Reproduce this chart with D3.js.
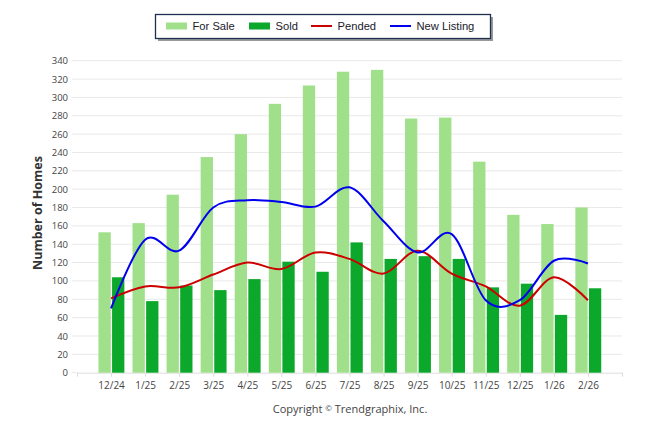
<!DOCTYPE html>
<html><head><meta charset="utf-8">
<script src="https://cdn.jsdelivr.net/npm/d3@7"></script>
<style>body{margin:0;background:#fff}svg{display:block}</style>
</head><body><div id="chart"></div>
<script>
const categories = ["12/24","1/25","2/25","3/25","4/25","5/25","6/25","7/25","8/25","9/25","10/25","11/25","12/25","1/26","2/26"];
const forSale = [153,163,194,235,260,293,313,328,330,277,278,230,172,162,180];
const sold = [104,78,95,90,102,121,110,142,124,127,124,93,97,63,92];
const pended = [81,94,93,107,120,113,131,124,108,133,108,94,73,104,79];
const newListing = [70,145,133,180,188,186,181,202,165,131,151,79,79,122,119];
const yTicks = d3.range(0, 341, 20);
const legendItems = [
  {name:"For Sale", type:"bar", color:"#a1e08b"},
  {name:"Sold", type:"bar", color:"#0ca82b"},
  {name:"Pended", type:"line", color:"#cc0000"},
  {name:"New Listing", type:"line", color:"#0000ee"}
];

const W = 646, H = 434;
const svg = d3.select("#chart").append("svg").attr("width", W).attr("height", H);
const x = d3.scaleLinear().domain([0, 16]).range([77, 622]);
const y = d3.scaleLinear().domain([0, 340]).range([372.7, 60.7]);
const font = "'Open Sans', 'DejaVu Sans', sans-serif";

// grid
svg.append("g").selectAll("line").data(yTicks.filter(d => d > 0)).join("line")
  .attr("x1", 72).attr("x2", 622)
  .attr("y1", d => y(d)).attr("y2", d => y(d))
  .attr("stroke", "#e8e8e8").attr("stroke-width", 1);

// y axis labels
const yAxis = d3.axisLeft(y).tickValues(yTicks).tickSize(0).tickPadding(0);
const gy = svg.append("g").attr("transform", "translate(68,0)").call(yAxis);
gy.select(".domain").remove();
gy.selectAll("text").attr("font-family", font).attr("font-size", 9.5).attr("fill", "#444");

// x axis
const xAxis = d3.axisBottom(x).tickValues(d3.range(0, 17)).tickSize(4).tickSizeOuter(0)
  .tickFormat(d => (d >= 1 && d <= 15) ? categories[d - 1] : "");
const gx = svg.append("g").attr("transform", `translate(0,${y(0)})`).call(xAxis);
gx.select(".domain").attr("stroke", "#dcdcdc");
gx.selectAll(".tick line").attr("stroke", "#dcdcdc");
gx.selectAll("text").attr("font-family", font).attr("font-size", 10).attr("fill", "#444").attr("dy", "0.95em");
svg.append("line").attr("x1", 72).attr("x2", 77).attr("y1", y(0)).attr("y2", y(0)).attr("stroke", "#e8e8e8");

// bars
const bw = 12.3;
svg.append("g").selectAll("rect").data(forSale).join("rect")
  .attr("x", (d, i) => x(i + 1) - 12.6).attr("width", bw)
  .attr("y", d => y(d)).attr("height", d => y(0) - y(d))
  .attr("fill", "#a1e08b");
svg.append("g").selectAll("rect").data(sold).join("rect")
  .attr("x", (d, i) => x(i + 1) + 1).attr("width", bw)
  .attr("y", d => y(d)).attr("height", d => y(0) - y(d))
  .attr("fill", "#0ca82b");

// lines
const line = d3.line().x((d, i) => x(i + 1)).y(d => y(d)).curve(d3.curveCardinal.tension(0));
svg.append("path").datum(pended).attr("d", line).attr("fill", "none")
  .attr("stroke", "#cc0000").attr("stroke-width", 2);
svg.append("path").datum(newListing).attr("d", line).attr("fill", "none")
  .attr("stroke", "#0000ee").attr("stroke-width", 2);

// y title
svg.append("text").attr("transform", "translate(42,213) rotate(-90)")
  .attr("text-anchor", "middle").attr("font-family", font).attr("font-weight", "bold")
  .attr("font-size", 12.5).attr("fill", "#333").text("Number of Homes");

// copyright
const ct = svg.append("text").attr("x", 350).attr("y", 413).attr("text-anchor", "middle")
  .attr("font-family", font).attr("font-size", 11).attr("fill", "#444");
ct.append("tspan").text("Copyright ");
ct.append("tspan").attr("font-size", 8).attr("dy", -2).text("©");
ct.append("tspan").attr("dy", 2).text(" Trendgraphix, Inc.");

// legend
const lg = svg.append("g");
lg.append("rect").attr("x", 158).attr("y", 17).attr("width", 335).attr("height", 24).attr("fill", "#999");
lg.append("rect").attr("x", 155.5).attr("y", 14.5).attr("width", 335).attr("height", 24)
  .attr("fill", "#fff").attr("stroke", "#1f2f4f").attr("stroke-width", 1.3);
const lx = [166, 249, 311, 390];
legendItems.forEach((it, i) => {
  if (it.type === "bar") {
    lg.append("rect").attr("x", lx[i]).attr("y", 22.5).attr("width", 21).attr("height", 7).attr("fill", it.color);
  } else {
    lg.append("line").attr("x1", lx[i]).attr("x2", lx[i] + 21).attr("y1", 26).attr("y2", 26)
      .attr("stroke", it.color).attr("stroke-width", 2);
  }
  lg.append("text").attr("x", lx[i] + 26.5).attr("y", 30.2)
    .attr("font-family", "'Liberation Sans', Arial, sans-serif").attr("font-size", 11.2).attr("fill", "#1a1a2a").text(it.name);
});
</script></body></html>
